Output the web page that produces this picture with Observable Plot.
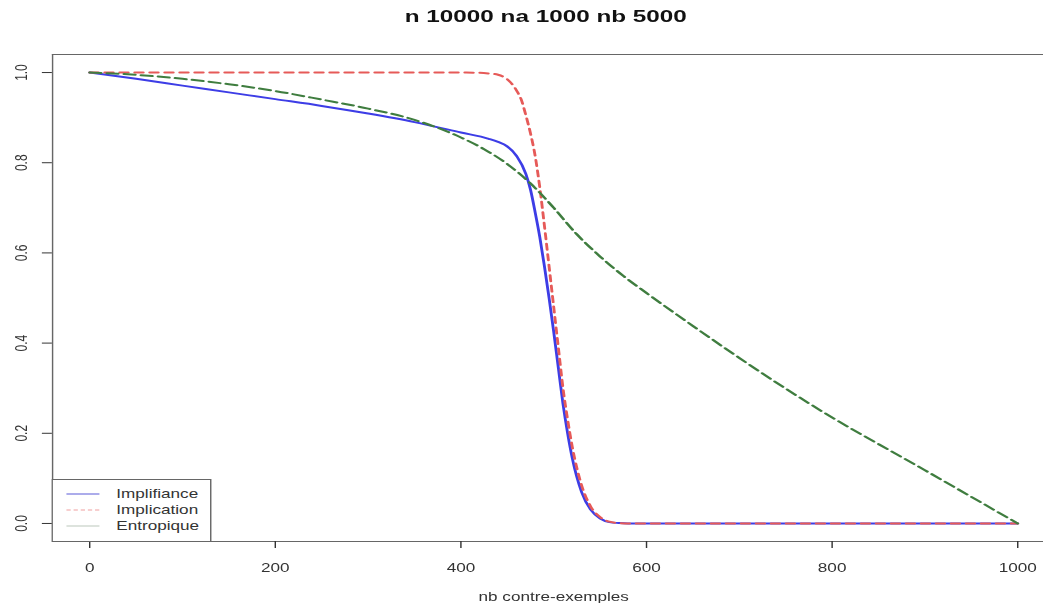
<!DOCTYPE html>
<html><head><meta charset="utf-8">
<script src="https://cdn.jsdelivr.net/npm/d3@7"></script>
<script src="https://cdn.jsdelivr.net/npm/@observablehq/plot@0.6"></script>
<style>
html,body{margin:0;padding:0;background:#fff;overflow:hidden;width:1043px;height:603px;}
#wrap{position:relative;width:730px;height:603px;transform:scaleX(1.42877);transform-origin:0 0;font-family:"Liberation Sans",Arial,sans-serif;}
#title{position:absolute;left:0;width:764px;top:0;height:34px;line-height:34px;text-align:center;font-weight:bold;font-size:17px;color:#111;}
#chart{position:absolute;left:0;top:36px;}
#legend{position:absolute;left:35.8px;top:479px;}
</style></head>
<body><div id="wrap"><div id="title">n 10000 na 1000 nb 5000</div><div id="chart"></div><div id="legend"></div></div>
<script>
const xTicks = [0, 200, 400, 600, 800, 1000];
const yTicks = [0, 0.2, 0.4, 0.6, 0.8, 1.0];
const seriesNames = ["Implifiance", "Implication", "Entropique"];
const seriesColors = ["#3d3de6", "#e65a58", "#3f7d3f"];

const implifX = [0,50,100,150,200,250,300,350,400,430,440,450,460,470,475,480,485,490,495,500,505,510,515,520,530,540,550,560,570,580,600,700,800,900,1000];
const implifY = [1,0.986,0.971,0.956,0.941,0.926,0.909,0.89,0.867,0.853,0.846,0.836,0.815,0.775,0.74,0.69,0.635,0.57,0.50,0.425,0.345,0.265,0.2,0.145,0.07,0.03,0.011,0.003,0.001,0,0,0,0,0,0];

const implicX = [0,100,200,300,400,420,430,440,450,460,465,470,475,480,485,490,495,500,505,510,515,520,530,540,550,560,570,580,600,700,800,900,1000];
const implicY = [1,1,1,1,1,0.9995,0.998,0.995,0.985,0.96,0.94,0.905,0.865,0.815,0.745,0.66,0.57,0.48,0.39,0.30,0.23,0.17,0.085,0.037,0.014,0.004,0.001,0,0,0,0,0,0];

const entroX = [0,50,100,150,200,250,300,350,400,425,450,475,500,525,550,575,600,650,700,750,800,850,900,950,1000];
const entroY = [1,0.995,0.986,0.974,0.959,0.940,0.920,0.895,0.856,0.830,0.797,0.754,0.700,0.641,0.592,0.549,0.511,0.438,0.367,0.299,0.235,0.176,0.118,0.059,0];

const rows = (xs, ys) => xs.map((x, i) => ({x, y: ys[i]}));

const chart = Plot.plot({
  width: 730, height: 567,
  marginLeft: 36.3, marginRight: -7.8, marginTop: 18, marginBottom: 62,
  style: {fontFamily: "Liberation Sans, Arial, sans-serif", fontSize: "12px", color: "#333", background: "white"},
  x: {domain: [-40, 1040]},
  y: {domain: [-0.04, 1.04]},
  marks: [
    Plot.ruleY([-0.04, 1.04], {stroke: "#666"}),
    Plot.ruleX([-40], {stroke: "#666"}),
    Plot.axisX({ticks: xTicks, tickSize: 7, tickPadding: 15, tickFormat: d => String(d), label: "nb contre-exemples", labelAnchor: "center", labelArrow: "none", labelOffset: 59}),
    Plot.axisY({ticks: yTicks, tickSize: 7, tickPadding: 11, tickRotate: -90, tickFormat: d3.format(".1f"), label: null}),
    Plot.line(rows(implifX, implifY), {x: "x", y: "y", stroke: seriesColors[0], strokeWidth: 2, curve: "monotone-x"}),
    Plot.line(rows(implicX, implicY), {x: "x", y: "y", stroke: seriesColors[1], strokeWidth: 2, strokeDasharray: "6,4.5", curve: "monotone-x"}),
    Plot.line(rows(entroX, entroY), {x: "x", y: "y", stroke: seriesColors[2], strokeWidth: 2, strokeDasharray: "8,4", curve: "monotone-x"})
  ]
});
document.getElementById("chart").appendChild(chart);

// legend (bottom-left, inside the plot frame)
const lg = d3.select("#legend").append("svg").attr("width", 112).attr("height", 63);
lg.append("rect").attr("x", 0.5).attr("y", 0.5).attr("width", 111).attr("height", 62)
  .attr("fill", "white").attr("stroke", "#666");
const legendStyles = [
  {stroke: "#5a5ad8", dash: null},
  {stroke: "#f0a0a0", dash: "3,2"},
  {stroke: "#bcc8bc", dash: null}
];
seriesNames.forEach((name, i) => {
  const cy = 15 + i * 16;
  lg.append("line").attr("x1", 10.5).attr("x2", 33.6).attr("y1", cy).attr("y2", cy)
    .attr("stroke", legendStyles[i].stroke).attr("stroke-width", 1)
    .attr("stroke-dasharray", legendStyles[i].dash);
  lg.append("text").attr("x", 45.4).attr("y", cy).attr("dy", "0.35em")
    .attr("font-family", "Liberation Sans, Arial, sans-serif").attr("font-size", 12)
    .attr("fill", "#333").text(name);
});
</script></body></html>
